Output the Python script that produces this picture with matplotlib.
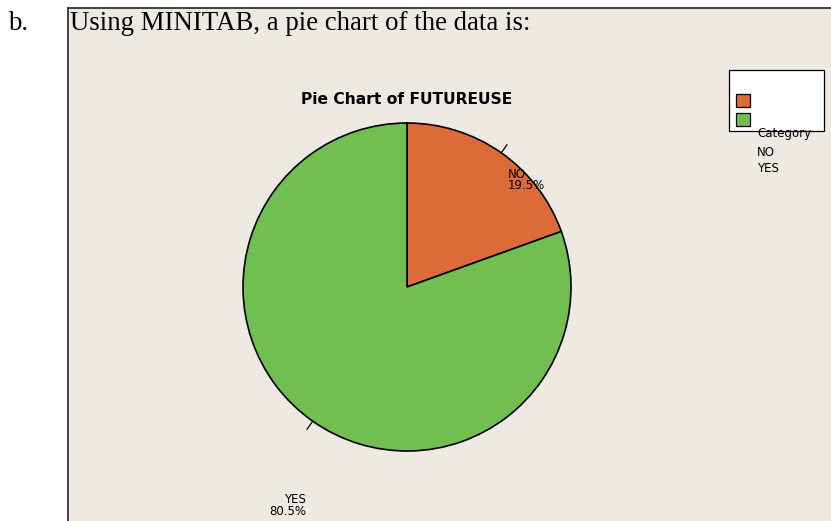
import numpy as np
import matplotlib.pyplot as plt
from matplotlib.patches import Rectangle

# data
categories = ["NO", "YES"]
percents = [19.5, 80.5]
colors = ["#DD6B38", "#70BF50"]
title = "Pie Chart of FUTUREUSE"
bg = "#EEE9E1"

W, H = 831, 521
fig = plt.figure(figsize=(W/100, H/100), dpi=100)
fig.patch.set_facecolor("white")

def px(x, y):
    return x / W, 1 - y / H

# framed panel
panel = fig.add_axes([68/W, 0, 1 - 68/W, 1 - 8/H])
panel.set_facecolor(bg)
panel.set_xticks([]); panel.set_yticks([])
for s in ["right", "bottom"]:
    panel.spines[s].set_visible(False)
for s in ["top", "left"]:
    panel.spines[s].set_color("#333333")
    panel.spines[s].set_linewidth(1.3)

fig.text(*px(8, 23), "b.", family="Liberation Serif", fontsize=19.3, va="center")
fig.text(*px(70, 23), "Using MINITAB, a pie chart of the data is:",
         family="Liberation Serif", fontsize=19.3, va="center")

# pie
cx, cy, r = 407, 287, 164
ax = fig.add_axes([(cx - r)/W, (H - cy - r)/H, 2*r/W, 2*r/H])
ax.axis("off")
wedges, _ = ax.pie(percents, colors=colors, startangle=90, counterclock=False,
                   radius=1, wedgeprops=dict(edgecolor="black", linewidth=1.2))
ax.set_xlim(-1, 1); ax.set_ylim(-1, 1)

fig.text(*px(cx, 100), title, fontsize=11.2, fontweight="bold",
         ha="center", va="center")

# labels with short leader ticks
for w, cat, p in zip(wedges, categories, percents):
    mid = np.deg2rad((w.theta1 + w.theta2) / 2)
    c, s = np.cos(mid), np.sin(mid)
    ax.plot([c, 1.06*c], [s, 1.06*s], color="black", lw=0.9, clip_on=False)
    if c > 0:
        ax.text(c + 0.04, s - 0.09, f"{cat}\n{p}%", fontsize=8.5, ha="left",
                va="top", linespacing=0.8)
    else:
        ax.text(c - 0.04, s - 0.44, f"{cat}\n{p}%", fontsize=8.5, ha="right",
                va="top", multialignment="right", linespacing=0.85)

# legend
fig.patches.append(Rectangle(px(729, 131), 95/W, 61/H, transform=fig.transFigure,
                             facecolor="white", edgecolor="black", lw=0.9))
for i, col in enumerate(colors):
    y0 = 107 + 19*i
    fig.patches.append(Rectangle(px(736, y0), 14/W, 13/H, transform=fig.transFigure,
                                 facecolor=col, edgecolor="black", lw=0.9))
fig.text(*px(757, 134), "Category", fontsize=8.5, va="center")
for i, cat in enumerate(categories):
    fig.text(*px(757, 152 + 17*i), cat, fontsize=8.5, va="center")

fig.savefig("out.png", dpi=100)
